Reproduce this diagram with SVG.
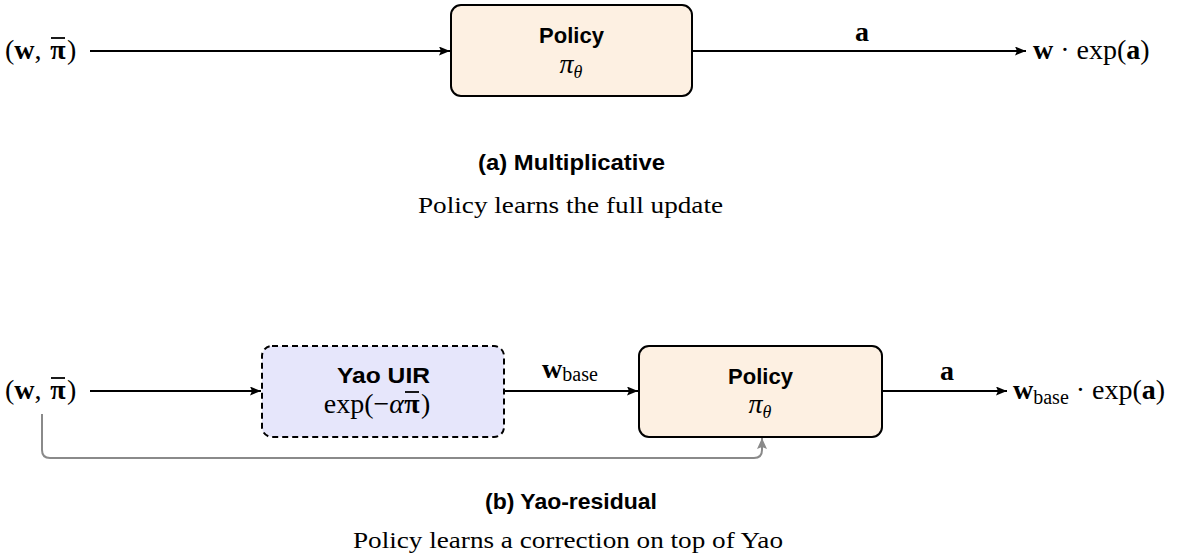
<svg xmlns="http://www.w3.org/2000/svg" width="1185" height="559" viewBox="0 0 1185 559">
  <style>
    .math { font-family: "Liberation Serif", "Times New Roman", serif; font-size: 28px; fill: #000; }
    .bf { font-weight: bold; }
    .it { font-style: italic; }
    .bar { stroke: #000; stroke-width: 1.8; }
    .title { font-family: "Liberation Sans", Arial, sans-serif; font-weight: bold; font-size: 22px; fill: #000; text-anchor: middle; }
    .note { font-family: "Liberation Serif", "Times New Roman", serif; font-size: 24px; fill: #000; text-anchor: middle; }
    .policy { fill: #fdf0e2; stroke: #000; stroke-width: 2; }
    .yao { fill: #e6e6fb; stroke: #000; stroke-width: 2; stroke-dasharray: 6 4; }
    .edge { fill: none; stroke: #000; stroke-width: 2; }
    .skip { fill: none; stroke: #8a8a8a; stroke-width: 2; }
  </style>
  <defs>
    <marker id="head" markerUnits="userSpaceOnUse" markerWidth="12" markerHeight="9" refX="11" refY="4.5" orient="auto">
      <path d="M0,0 L11,4.5 L0,9 L2,4.5 z" fill="#000"/>
    </marker>
    <marker id="headGray" markerUnits="userSpaceOnUse" markerWidth="12" markerHeight="10" refX="11" refY="5" orient="auto">
      <path d="M0,0 L11,5 L0,10 L2,5 z" fill="#8a8a8a"/>
    </marker>
  </defs>

  <!-- (a) Multiplicative -->
  <g id="a-input">
    <text class="math" x="5" y="59">(<tspan class="bf">w</tspan>,</text>
    <text class="math bf" x="58" y="59" text-anchor="middle">π</text>
    <line class="bar" x1="51" y1="38" x2="65" y2="38"/>
    <text class="math" x="67" y="59">)</text>
  </g>
  <g id="a-policy">
    <rect class="policy" x="451" y="5" width="241" height="91" rx="10"/>
    <text class="title" x="571.5" y="43">Policy</text>
    <text class="math" x="571" y="73" text-anchor="middle" font-size="27"><tspan class="it">π</tspan><tspan class="it" font-size="18" dy="5">θ</tspan></text>
  </g>
  <g id="a-output">
    <text class="math" x="1033" y="59"><tspan class="bf">w</tspan> · exp(<tspan class="bf">a</tspan>)</text>
  </g>

  <!-- (b) Yao-residual -->
  <g id="b-input">
    <text class="math" x="5" y="399">(<tspan class="bf">w</tspan>,</text>
    <text class="math bf" x="58" y="399" text-anchor="middle">π</text>
    <line class="bar" x1="51" y1="378" x2="65" y2="378"/>
    <text class="math" x="67" y="399">)</text>
  </g>
  <g id="b-yao">
    <rect class="yao" x="262" y="346" width="242" height="91" rx="10"/>
    <text class="title" x="383.5" y="383" textLength="93" lengthAdjust="spacingAndGlyphs">Yao UIR</text>
    <text class="math" x="404" y="413" text-anchor="end">exp(−<tspan class="it">α</tspan></text>
    <text class="math bf" x="412" y="413" text-anchor="middle">π</text>
    <line class="bar" x1="405" y1="392" x2="419" y2="392"/>
    <text class="math" x="421" y="413">)</text>
  </g>
  <g id="b-policy">
    <rect class="policy" x="639" y="346" width="243" height="91" rx="10"/>
    <text class="title" x="760.5" y="384">Policy</text>
    <text class="math" x="760" y="413" text-anchor="middle" font-size="27"><tspan class="it">π</tspan><tspan class="it" font-size="18" dy="5">θ</tspan></text>
  </g>
  <g id="b-output">
    <text class="math" x="1013" y="399"><tspan class="bf">w</tspan><tspan font-size="20" dy="5">base</tspan><tspan dy="-5"> · exp(</tspan><tspan class="bf">a</tspan>)</text>
  </g>

  <!-- connectors -->
  <g id="connectors">
    <line class="edge" x1="90" y1="51" x2="450" y2="51" marker-end="url(#head)"/>
    <line class="edge" x1="692" y1="51" x2="1026" y2="51" marker-end="url(#head)"/>
    <text class="math bf" x="862" y="41" text-anchor="middle">a</text>

    <line class="edge" x1="90" y1="391" x2="261" y2="391" marker-end="url(#head)"/>
    <line class="edge" x1="505" y1="391" x2="638" y2="391" marker-end="url(#head)"/>
    <text class="math" x="570" y="378" text-anchor="middle"><tspan class="bf">w</tspan><tspan font-size="20" dy="3">base</tspan></text>
    <line class="edge" x1="882" y1="391" x2="1007" y2="391" marker-end="url(#head)"/>
    <text class="math bf" x="947" y="380" text-anchor="middle">a</text>

    <path class="skip" d="M42,414 V450 Q42,458 50,458 H754 Q762,458 762,450 V438" marker-end="url(#headGray)"/>
  </g>

  <!-- captions -->
  <text class="title" x="571.5" y="170" textLength="187" lengthAdjust="spacingAndGlyphs">(a) Multiplicative</text>
  <text class="note" x="570.5" y="213" textLength="305" lengthAdjust="spacingAndGlyphs">Policy learns the full update</text>
  <text class="title" x="571" y="509" textLength="172" lengthAdjust="spacingAndGlyphs">(b) Yao-residual</text>
  <text class="note" x="568" y="548" textLength="430" lengthAdjust="spacingAndGlyphs">Policy learns a correction on top of Yao</text>
</svg>
